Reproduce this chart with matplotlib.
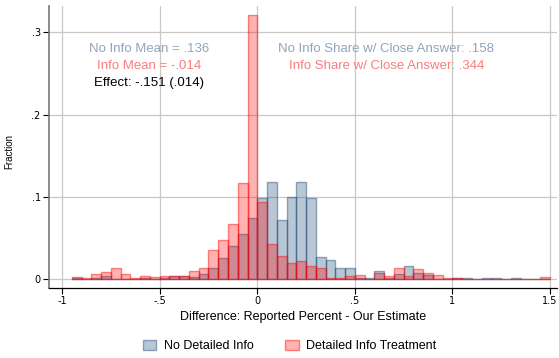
import numpy as np
import matplotlib.pyplot as plt
from matplotlib.patches import Patch

plt.rcParams['font.family'] = ['Liberation Sans', 'DejaVu Sans']

# bin left edges (width .05)
bin_left = [-0.95, -0.90, -0.85, -0.80, -0.75, -0.70, -0.65, -0.60, -0.55, -0.50,
            -0.45, -0.40, -0.35, -0.30, -0.25, -0.20, -0.15, -0.10, -0.05, 0.00,
            0.05, 0.10, 0.15, 0.20, 0.25, 0.30, 0.35, 0.40, 0.45, 0.50,
            0.55, 0.60, 0.65, 0.70, 0.75, 0.80, 0.85, 0.90, 0.95, 1.00,
            1.05, 1.10, 1.15, 1.20, 1.25, 1.30, 1.35, 1.40, 1.45]
bin_w = 0.05

# fraction, no detailed info
noinfo = [0.002, 0.000, 0.001, 0.004, 0.000, 0.000, 0.000, 0.001, 0.000, 0.002,
          0.004, 0.004, 0.003, 0.0065, 0.0133, 0.0258, 0.0403, 0.0556, 0.075, 0.0992,
          0.1185, 0.0726, 0.100, 0.1185, 0.0992, 0.027, 0.0235, 0.014, 0.0133, 0.002,
          0.002, 0.0105, 0.002, 0.006, 0.0157, 0.0072, 0.0048, 0.0005, 0.000, 0.001,
          0.001, 0.000, 0.001, 0.001, 0.000, 0.001, 0.000, 0.000, 0.000]

# fraction, detailed info treatment
info = [0.003, 0.0012, 0.007, 0.009, 0.0137, 0.0068, 0.0012, 0.004, 0.0028, 0.004,
        0.004, 0.004, 0.0097, 0.0137, 0.0354, 0.048, 0.0677, 0.1173, 0.3206, 0.0944,
        0.0423, 0.0278, 0.0194, 0.0218, 0.0157, 0.0135, 0.002, 0.0015, 0.0036, 0.0048,
        0.0005, 0.0072, 0.0036, 0.0133, 0.0036, 0.012, 0.0072, 0.0048, 0.002, 0.001,
        0.000, 0.000, 0.000, 0.000, 0.000, 0.000, 0.000, 0.000, 0.0025]

xticks = [-1, -0.5, 0, 0.5, 1, 1.5]
xtick_labels = ['-1', '-.5', '0', '.5', '1', '1.5']
yticks = [0, 0.1, 0.2, 0.3]
ytick_labels = ['0', '.1', '.2', '.3']

blue = (0.10, 0.28, 0.46)
red = (1.0, 0.0, 0.0)

fig = plt.figure(figsize=(5.59, 3.58), dpi=100)
ax = fig.add_axes([0.0877, 0.1955, 0.9088, 0.7877])

ax.bar(bin_left, noinfo, width=bin_w, align='edge',
       facecolor=blue + (0.3,), edgecolor=blue + (0.45,), linewidth=1.0, zorder=2)
ax.bar(bin_left, info, width=bin_w, align='edge',
       facecolor=red + (0.3,), edgecolor=red + (0.45,), linewidth=1.0, zorder=3)

ax.set_xlim(-1.067, 1.536)
ax.set_ylim(-0.0106, 0.332)
ax.set_xticks(xticks)
ax.set_yticks(yticks)
ax.set_xticklabels(xtick_labels, family='DejaVu Sans')
ax.set_yticklabels(ytick_labels, family='DejaVu Sans')
ax.tick_params(labelsize=7, length=4, width=0.8, pad=2, color='black')
ax.grid(True, color='#c8c8c8', linewidth=0.9, zorder=0)
ax.set_axisbelow(True)

for s in ['top', 'right']:
    ax.spines[s].set_visible(False)
ax.spines['left'].set_color('#777777')
ax.spines['left'].set_linewidth(1.2)
ax.spines['bottom'].set_color('black')
ax.spines['bottom'].set_linewidth(0.9)

ax.set_xlabel('Difference: Reported Percent - Our Estimate', fontsize=9, labelpad=3)
ax.set_ylabel('Fraction', fontsize=7)
ax.yaxis.set_label_coords(-0.069, 0.485)

ax.text(-0.554, 0.280, 'No Info Mean = .136', color='#8fa5bd', fontsize=9.5, ha='center', va='center')
ax.text(-0.554, 0.259, 'Info Mean = -.014', color='#f77f7f', fontsize=9.5, ha='center', va='center')
ax.text(-0.554, 0.239, 'Effect: -.151 (.014)', color='black', fontsize=9.5, ha='center', va='center')
ax.text(0.662, 0.280, 'No Info Share w/ Close Answer: .158', color='#8fa5bd', fontsize=9.5, ha='center', va='center')
ax.text(0.662, 0.259, 'Info Share w/ Close Answer: .344', color='#f77f7f', fontsize=9.5, ha='center', va='center')

handles = [Patch(facecolor=blue + (0.3,), edgecolor=blue + (0.45,), label='No Detailed Info'),
           Patch(facecolor=red + (0.3,), edgecolor=red + (0.45,), label='Detailed Info Treatment')]
fig.legend(handles=handles, loc='center', bbox_to_anchor=(0.518, 0.033), ncol=2,
           frameon=False, fontsize=9, handlelength=1.1, handleheight=0.8,
           columnspacing=2.5, handletextpad=0.6)

fig.savefig('out.png', dpi=100)
